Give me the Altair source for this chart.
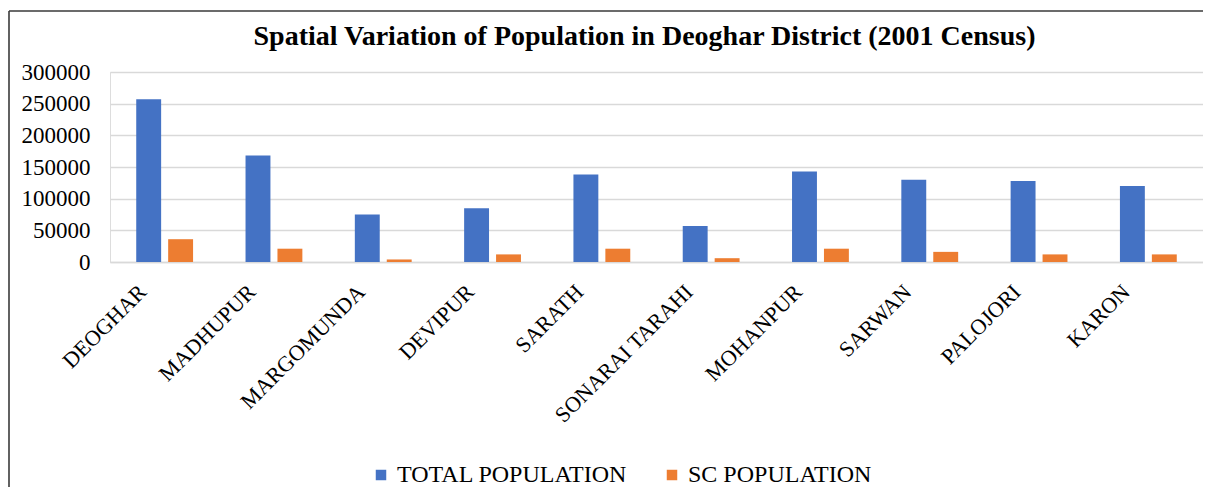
import altair as alt
import pandas as pd

categories = ["DEOGHAR", "MADHUPUR", "MARGOMUNDA", "DEVIPUR", "SARATH",
              "SONARAI TARAHI", "MOHANPUR", "SARWAN", "PALOJORI", "KARON"]
total_population = [257000, 168000, 75000, 85000, 138000, 57000, 143000, 130000, 128000, 120000]
sc_population = [36000, 21000, 4000, 12000, 21000, 6000, 21000, 16000, 12000, 12000]
series_names = ["TOTAL POPULATION", "SC POPULATION"]
series_colors = ["#4472C4", "#ED7D31"]
y_ticks = [0, 50000, 100000, 150000, 200000, 250000, 300000]

rows = []
for c, t, s in zip(categories, total_population, sc_population):
    rows.append({"block": c, "series": series_names[0], "value": t})
    rows.append({"block": c, "series": series_names[1], "value": s})
df = pd.DataFrame(rows)

FONT = "Liberation Serif"
W, H = 1093, 190

bars = alt.Chart(df).mark_bar().encode(
    x=alt.X("block:N", sort=categories, title=None,
            scale=alt.Scale(paddingInner=0.48, paddingOuter=0.24),
            axis=alt.Axis(labelAngle=-45, labelAlign="right", labelBaseline="middle",
                          labelPadding=26, labelOffset=-22, ticks=False, domainColor="#D9D9D9",
                          domainWidth=1.5, labelFont=FONT, labelFontSize=22,
                          labelColor="#000000", labelLimit=400)),
    xOffset=alt.XOffset("series:N", sort=series_names,
                        scale=alt.Scale(paddingInner=0.22, paddingOuter=0)),
    y=alt.Y("value:Q", title=None,
            scale=alt.Scale(domain=[0, 300000], nice=False),
            axis=alt.Axis(values=y_ticks, format="d", ticks=False, domain=False,
                          gridColor="#D9D9D9", gridWidth=1.5, labelPadding=20,
                          labelFont=FONT, labelFontSize=23, labelColor="#000000")),
    color=alt.Color("series:N", sort=series_names,
                    scale=alt.Scale(domain=series_names, range=series_colors),
                    legend=alt.Legend(title=None, orient="none", direction="horizontal",
                                      legendX=259, legendY=391, symbolType="square",
                                      symbolSize=110, symbolStrokeWidth=0,
                                      labelFont=FONT, labelFontSize=24, labelLimit=400,
                                      labelColor="#000000", columnPadding=32,
                                      labelOffset=4)),
)

frame_left = alt.Chart(pd.DataFrame({"k": [0]})).mark_rule(color="#3a3a3a", strokeWidth=1.6).encode(
    x=alt.value(-101), y=alt.value(-61), y2=alt.value(H + 230))
frame_top = alt.Chart(pd.DataFrame({"k": [0]})).mark_rule(color="#3a3a3a", strokeWidth=1.6).encode(
    x=alt.value(-101), x2=alt.value(W + 20), y=alt.value(-61))

chart = alt.layer(bars, frame_left, frame_top).properties(
    width=W, height=H,
    autosize=alt.AutoSizeParams(type="none"),
    padding={"left": 102, "top": 64, "right": 0, "bottom": 225},
    title=alt.TitleParams("Spatial Variation of Population in Deoghar District (2001 Census)",
                          font=FONT, fontSize=28, fontWeight="bold", color="#000000",
                          anchor="middle", dx=-12, offset=-41),
).configure_view(stroke=None).configure(background="white")

chart.save("out.html", embed_options={"renderer": "svg", "actions": False})
